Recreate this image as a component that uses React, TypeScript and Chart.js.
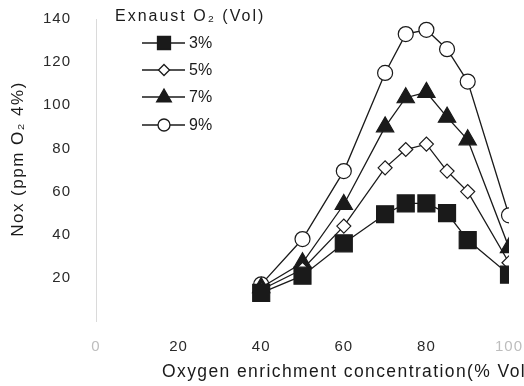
import React, { useEffect, useRef } from 'react';
import { Chart, registerables } from 'chart.js';

Chart.register(...registerables);

// Oxygen enrichment concentration (% Vol) at each measurement
const enrichment = [40, 50, 60, 70, 75, 80, 85, 90, 100];

// NOx (ppm, corrected to O2 4%) for each exhaust O2 level
const nox3 = [13, 21, 36, 49.5, 54.5, 54.5, 50, 37.5, 21.5];
const nox5 = [14.5, 24, 44, 71, 79.5, 82, 69.5, 60, 27];
const nox7 = [15.5, 27, 54, 90, 103.5, 106, 94.5, 84, 34];
const nox9 = [17, 38, 69.5, 115, 133, 135, 126, 111, 49];

const seriesNames = ['3%', '5%', '7%', '9%'];
const xTickValues = [0, 20, 40, 60, 80, 100];
const yTickValues = [0, 20, 40, 60, 80, 100, 120, 140];

const legendTitle = 'Exnaust O₂ (Vol)';
const xTitle = 'Oxygen enrichment concentration(% Vol)';
const yTitle = 'Nox (ppm O₂ 4%)';

const FONT = '"Liberation Sans", Arial, Helvetica, sans-serif';
const INK = '#1a1a1a';
const FAINT = '#bdbdbd';

type MarkerKind = 'square' | 'diamond' | 'triangle' | 'circle';

function drawMarker(
  ctx: CanvasRenderingContext2D,
  kind: MarkerKind,
  x: number,
  y: number,
  r: number,
  fill: string
) {
  ctx.beginPath();
  if (kind === 'square') {
    ctx.rect(x - r, y - r, 2 * r, 2 * r);
  } else if (kind === 'diamond') {
    ctx.moveTo(x, y - r);
    ctx.lineTo(x + r, y);
    ctx.lineTo(x, y + r);
    ctx.lineTo(x - r, y);
    ctx.closePath();
  } else if (kind === 'triangle') {
    ctx.moveTo(x, y - r);
    ctx.lineTo(x + r * 0.92, y + r * 0.62);
    ctx.lineTo(x - r * 0.92, y + r * 0.62);
    ctx.closePath();
  } else {
    ctx.arc(x, y, r, 0, Math.PI * 2);
  }
  ctx.fillStyle = fill;
  ctx.fill();
  ctx.stroke();
}

const legendMarkers: { kind: MarkerKind; r: number; fill: string }[] = [
  { kind: 'square', r: 6.5, fill: INK },
  { kind: 'diamond', r: 5.5, fill: '#fff' },
  { kind: 'triangle', r: 8, fill: INK },
  { kind: 'circle', r: 6, fill: '#fff' },
];

const decorPlugin = {
  id: 'decor',
  beforeDraw(chart: Chart) {
    (chart.ctx as any).letterSpacing = '1px';
  },
  afterDraw(chart: Chart) {
    const ctx = chart.ctx;

    // vertical axis title
    ctx.save();
    (ctx as any).letterSpacing = '1.5px';
    ctx.fillStyle = INK;
    ctx.font = `17px ${FONT}`;
    ctx.textAlign = 'center';
    ctx.textBaseline = 'middle';
    ctx.translate(18, 159);
    ctx.rotate(-Math.PI / 2);
    ctx.fillText(yTitle, 0, 0);
    ctx.restore();

    // horizontal axis title
    ctx.save();
    (ctx as any).letterSpacing = '1.4px';
    ctx.fillStyle = INK;
    ctx.font = `17.5px ${FONT}`;
    ctx.textAlign = 'left';
    ctx.textBaseline = 'alphabetic';
    ctx.fillText(xTitle, 162, 377);
    ctx.restore();

    // legend block
    ctx.save();
    (ctx as any).letterSpacing = '2px';
    ctx.fillStyle = INK;
    ctx.font = `16px ${FONT}`;
    ctx.textAlign = 'left';
    ctx.textBaseline = 'middle';
    ctx.fillText(legendTitle, 115, 17);

    (ctx as any).letterSpacing = '0px';
    const rows = [43, 70, 97, 125];
    ctx.strokeStyle = INK;
    ctx.lineWidth = 1.3;
    seriesNames.forEach((name, i) => {
      const y = rows[i];
      ctx.beginPath();
      ctx.moveTo(142, y);
      ctx.lineTo(185, y);
      ctx.stroke();
      const m = legendMarkers[i];
      drawMarker(ctx, m.kind, 164, y, m.r, m.fill);
      ctx.fillStyle = INK;
      ctx.font = `16px ${FONT}`;
      ctx.fillText(name, 189, y + 1);
    });
    ctx.restore();
    (ctx as any).letterSpacing = '0px';
  },
};

function toPoints(values: number[]) {
  return enrichment.map((x, i) => ({ x, y: values[i] }));
}

// keep the plot area exactly where the layout padding puts it
function clearScalePadding(s: any) {
  s.paddingTop = 0;
  s.paddingBottom = 0;
  s.paddingLeft = 0;
  s.paddingRight = 0;
}

export default function App() {
  const canvasRef = useRef<HTMLCanvasElement | null>(null);

  useEffect(() => {
    if (!canvasRef.current) return;
    const line = { borderColor: INK, borderWidth: 1.3, tension: 0, pointBorderColor: INK, pointBorderWidth: 1.2 };
    const chart = new Chart(canvasRef.current, {
      type: 'line',
      data: {
        datasets: [
          { label: seriesNames[0], data: toPoints(nox3), ...line, pointStyle: 'rect', pointRadius: 12, pointBackgroundColor: INK },
          { label: seriesNames[1], data: toPoints(nox5), ...line, pointStyle: 'rectRot', pointRadius: 7, pointBackgroundColor: '#fff' },
          { label: seriesNames[2], data: toPoints(nox7), ...line, pointStyle: 'triangle', pointRadius: 10, pointBackgroundColor: INK },
          { label: seriesNames[3], data: toPoints(nox9), ...line, pointStyle: 'circle', pointRadius: 7.5, pointBackgroundColor: '#fff' },
        ],
      },
      options: {
        animation: false,
        responsive: false,
        devicePixelRatio: 1,
        layout: { padding: { left: 0, right: 15, top: 19, bottom: 0 } },
        plugins: { legend: { display: false }, tooltip: { enabled: false } },
        scales: {
          x: {
            type: 'linear',
            min: 0,
            max: 100,
            afterBuildTicks: (s: any) => {
              s.ticks = xTickValues.map((v) => ({ value: v }));
            },
            afterFit: (s: any) => {
              s.height = 65;
              clearScalePadding(s);
            },
            grid: { display: false, drawTicks: false },
            border: { display: false },
            ticks: {
              padding: 17,
              font: { family: FONT, size: 15 },
              color: (c: any) => (c.tick && (c.tick.value === 0 || c.tick.value === 100) ? FAINT : '#2a2a2a'),
            },
          },
          y: {
            type: 'linear',
            min: 0,
            max: 140,
            afterBuildTicks: (s: any) => {
              s.ticks = yTickValues.map((v) => ({ value: v }));
            },
            afterFit: (s: any) => {
              s.width = 96;
              clearScalePadding(s);
            },
            grid: { display: false, drawTicks: false },
            border: { display: true, color: '#dadada', width: 1, dash: [1, 6] },
            ticks: {
              padding: 25,
              font: { family: FONT, size: 15 },
              color: '#2a2a2a',
              callback: (v: any) => (Number(v) === 0 ? '' : String(v)),
            },
          },
        },
      },
      plugins: [decorPlugin],
    });
    return () => chart.destroy();
  }, []);

  return (
    <div style={{ position: 'fixed', left: 0, top: 0, width: 524, height: 386, background: '#fff' }}>
      <canvas ref={canvasRef} width={524} height={386} style={{ display: 'block' }} />
    </div>
  );
}
